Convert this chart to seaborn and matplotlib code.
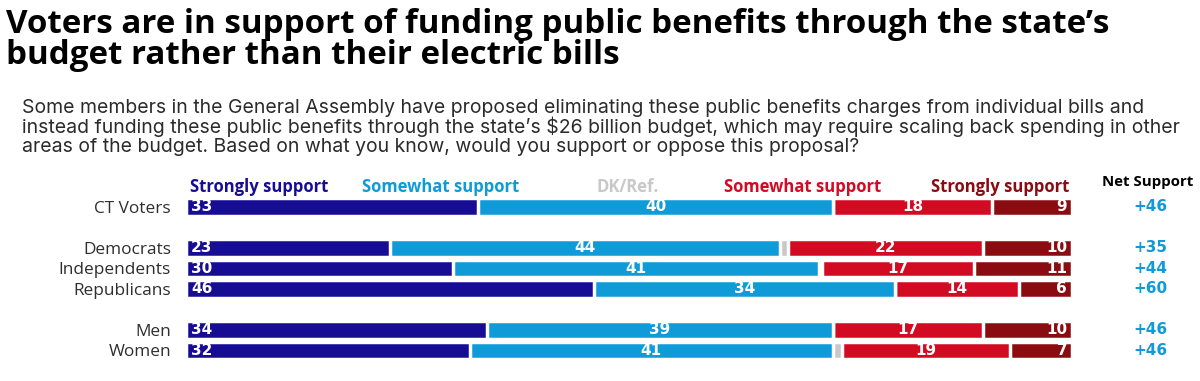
import numpy as np
import pandas as pd
import seaborn as sns
import matplotlib.pyplot as plt
from matplotlib.transforms import blended_transform_factory, offset_copy

# ---------------- data ----------------
groups = ["CT Voters", "Democrats", "Independents", "Republicans", "Men", "Women"]
row_pos = [0, 2, 3, 4, 6, 7]
strongly_support = [33, 23, 30, 46, 34, 32]
somewhat_support = [40, 44, 41, 34, 39, 41]
dk_ref = [0, 1, 0.4, 0, 0, 1]
somewhat_oppose = [18, 22, 17, 14, 17, 19]
strongly_oppose = [9, 10, 11, 6, 10, 7]
net_support = ["+46", "+35", "+44", "+60", "+46", "+46"]
header_labels = ["Strongly support", "Somewhat support", "DK/Ref.",
                 "Somewhat support", "Strongly support"]

title_lines = ["Voters are in support of funding public benefits through the state\u2019s",
               "budget rather than their electric bills"]
subtitle_lines = [
    "Some members in the General Assembly have proposed eliminating these public benefits charges from individual bills and",
    "instead funding these public benefits through the state\u2019s $26 billion budget, which may require scaling back spending in other",
    "areas of the budget. Based on what you know, would you support or oppose this proposal?",
]

colors = ["#170c94", "#0f9bd8", "#c8c8c8", "#d20a22", "#8a0c10"]

# ---------------- figure ----------------
sns.set_theme(style="white")
plt.rcParams["font.family"] = ["Open Sans", "DejaVu Sans"]
num_font = ["DejaVu Sans"]

W, H = 1200, 381
fig = plt.figure(figsize=(W / 100, H / 100), dpi=100)
renderer = fig.canvas.get_renderer()

unit = 20.5           # px per row unit
y0 = 207              # pixel y of first row centre
ylo, yhi = -0.6, 7.6
ax_left, ax_right = 186, 1072
ax_top = y0 + ylo * unit
ax_bot = y0 + yhi * unit
ax = fig.add_axes([ax_left / W, 1 - ax_bot / H, (ax_right - ax_left) / W, (ax_bot - ax_top) / H])

series = np.array([strongly_support, somewhat_support, dk_ref, somewhat_oppose,
                   strongly_oppose], dtype=float)
shares = series / series.sum(axis=0) * 100      # each row spans the full bar
cum = np.cumsum(shares, axis=0)

for i in reversed(range(len(series))):
    df = pd.DataFrame({"value": cum[i], "pos": row_pos})
    sns.barplot(data=df, x="value", y="pos", orient="h", native_scale=True,
                color=colors[i], saturation=1, width=0.85, edgecolor="white",
                linewidth=2.5, ax=ax, errorbar=None)

ax.set_xlim(0, 100)
ax.set_ylim(yhi, ylo)
for s in ax.spines.values():
    s.set_visible(False)
ax.set_xticks([])
ax.set_xlabel("")
ax.set_ylabel("")
ax.set_yticks(row_pos)
ax.set_yticklabels(groups)
ax.tick_params(axis="y", length=0, pad=(ax_left - 171) * 0.72, labelsize=11.5, labelcolor="#2e2e2e")


def fit(t, target):
    w = t.get_window_extent(renderer).width
    t.set_fontsize(t.get_fontsize() * target / w)
    return t.get_fontsize()


# fit category label size
probe = fig.text(0, 0, "Independents", fontsize=12)
cat_fs = fit(probe, 111)
probe.remove()
ax.tick_params(axis="y", labelsize=cat_fs)

# segment labels
lbl_fs = 11
starts = np.vstack([np.zeros(len(groups)), cum[:-1]])
left_tr = offset_copy(ax.transData, fig=fig, x=3.5, units="points")
right_tr = offset_copy(ax.transData, fig=fig, x=-3.5, units="points")
lbl_kw = dict(va="center", color="white", fontweight="bold", fontsize=lbl_fs, family=num_font)
for j, y in enumerate(row_pos):
    ax.text(starts[0][j], y, f"{strongly_support[j]}", transform=left_tr, ha="left", **lbl_kw)
    ax.text((starts[1][j] + cum[1][j]) / 2, y, f"{somewhat_support[j]}", ha="center", **lbl_kw)
    ax.text((starts[3][j] + cum[3][j]) / 2, y, f"{somewhat_oppose[j]}", ha="center", **lbl_kw)
    ax.text(cum[4][j], y, f"{strongly_oppose[j]}", transform=right_tr, ha="right", **lbl_kw)

# net support column
net_tr = blended_transform_factory(fig.transFigure, ax.transData)
for j, y in enumerate(row_pos):
    ax.text(1150 / W, y, net_support[j], transform=net_tr, ha="center", va="center",
            color=colors[1], fontweight="bold", fontsize=11, family=num_font, clip_on=False)


def fx(x):
    return x / W


def fy(y):
    return 1 - y / H


# headers
hdr_y = 187.5
t = fig.text(fx(190), fy(hdr_y), header_labels[0], color=colors[0], fontweight="bold",
             ha="left", va="center", fontsize=12)
hdr_fs = fit(t, 138)
fig.text(fx(362), fy(hdr_y), header_labels[1], color=colors[1], fontweight="bold",
         ha="left", va="center", fontsize=hdr_fs)
fig.text(fx(597), fy(hdr_y), header_labels[2], color=colors[2], fontweight="bold",
         ha="left", va="center", fontsize=hdr_fs)
fig.text(fx(724), fy(hdr_y), header_labels[3], color=colors[3], fontweight="bold",
         ha="left", va="center", fontsize=hdr_fs)
fig.text(fx(1069), fy(hdr_y), header_labels[4], color=colors[4], fontweight="bold",
         ha="right", va="center", fontsize=hdr_fs)
t = fig.text(fx(1148), fy(181.5), "Net Support", color="black", fontweight="bold",
             ha="center", va="center", fontsize=12)
fit(t, 91)

# title
t1 = fig.text(fx(6), fy(33), title_lines[0], color="black", fontweight="bold",
              ha="left", va="baseline", fontsize=20)
tfs = fit(t1, 1102)
fig.text(fx(6), fy(64), title_lines[1], color="black", fontweight="bold",
         ha="left", va="baseline", fontsize=tfs)

# subtitle
sub_font = ["Inter", "DejaVu Sans"]
s2 = fig.text(fx(21.5), fy(132.7), subtitle_lines[1], color="#2b2b2b", family=sub_font,
              ha="left", va="baseline", fontsize=12)
sfs = fit(s2, 1156)
fig.text(fx(21.5), fy(113.3), subtitle_lines[0], color="#2b2b2b", family=sub_font,
         ha="left", va="baseline", fontsize=sfs)
fig.text(fx(21.5), fy(151.7), subtitle_lines[2], color="#2b2b2b", family=sub_font,
         ha="left", va="baseline", fontsize=sfs)

fig.savefig("out.png", dpi=100, facecolor="white")
